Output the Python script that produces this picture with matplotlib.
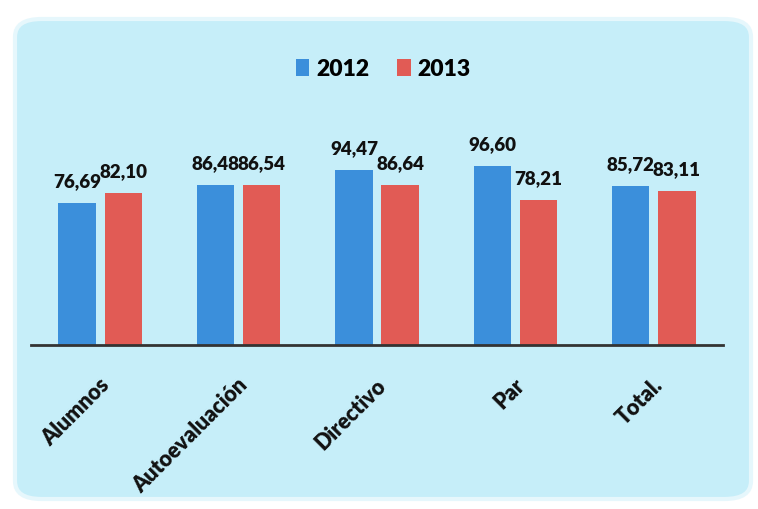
import matplotlib
matplotlib.use("Agg")
import matplotlib.pyplot as plt
from matplotlib.patches import FancyBboxPatch
import matplotlib.transforms as mtransforms
import numpy as np

categories = ["Alumnos", "Autoevaluación", "Directivo", "Par", "Total."]
series_names = ["2012", "2013"]
values_2012 = [76.69, 86.48, 94.47, 96.60, 85.72]
values_2013 = [82.10, 86.54, 86.64, 78.21, 83.11]
labels_2012 = ["76,69", "86,48", "94,47", "96,60", "85,72"]
labels_2013 = ["82,10", "86,54", "86,64", "78,21", "83,11"]

blue = "#3b8fdb"
red = "#e15b55"
bg = "#c6eef9"

plt.rcParams['font.family'] = ['Lato', 'DejaVu Sans']

W, H = 758, 510
fig = plt.figure(figsize=(W / 100, H / 100), dpi=100)
fig.patch.set_facecolor("white")

box = FancyBboxPatch((15 / W, 10 / H), 736 / W, 480 / H,
                     boxstyle="round,pad=0,rounding_size=0.035",
                     transform=fig.transFigure, facecolor=bg,
                     edgecolor="#e6f7fc", linewidth=3, zorder=-10)
fig.patches.append(box)

ax = fig.add_axes([31 / W, 164 / H, 692 / W, 222 / H])
ax.set_facecolor("none")
ax.set_zorder(5)

x = np.arange(len(categories))
bw = 0.27
off = 0.167
b1 = ax.bar(x - off, values_2012, bw, color=blue, label=series_names[0], zorder=2)
b2 = ax.bar(x + off, values_2013, bw, color=red, label=series_names[1], zorder=2)

for bars, labs in ((b1, labels_2012), (b2, labels_2013)):
    for rect, lab in zip(bars, labs):
        ax.annotate(lab, (rect.get_x() + rect.get_width() / 2, rect.get_height()),
                    xytext=(0, 10), textcoords="offset points",
                    ha="center", va="bottom", fontsize=13.5, fontweight="heavy",
                    color="#111111")

ax.set_xlim(-0.5, 4.5)
ax.set_ylim(0, 120)
ax.set_yticks([])
for s in ("top", "right", "left"):
    ax.spines[s].set_visible(False)
ax.spines["bottom"].set_color("#333333")
ax.spines["bottom"].set_linewidth(2)
ax.spines["bottom"].set_zorder(3)

ax.set_xticks(x)
ax.set_xticklabels(categories, rotation=45, ha="right", va="center",
                   rotation_mode="anchor", fontsize=15.5, fontweight="heavy",
                   color="#111111")
ax.tick_params(axis="x", length=0, pad=26)
shift = mtransforms.ScaledTranslation(6 / 100, 0, fig.dpi_scale_trans)
for lbl in ax.get_xticklabels():
    lbl.set_transform(lbl.get_transform() + shift)

leg = fig.legend(handles=[b1, b2], labels=series_names, loc="center",
                 bbox_to_anchor=(383 / W, 1 - 70 / H), ncol=2, frameon=False,
                 prop={"weight": "heavy", "size": 16.5}, handlelength=0.6,
                 handleheight=0.8, handletextpad=0.3, columnspacing=1.2)

fig.savefig("out.png", dpi=100, facecolor="white")
